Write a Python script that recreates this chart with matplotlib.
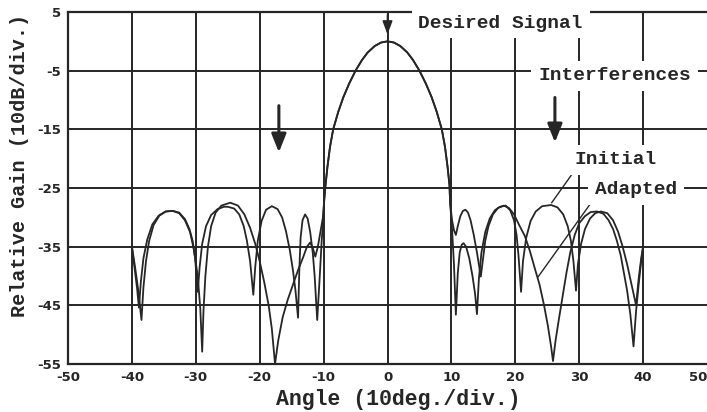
import numpy as np
import matplotlib
matplotlib.use('Agg')
import matplotlib.pyplot as plt

# values (angle in deg, gain in dB)
main_ang = [-9.9, -9.7, -9.4, -9.0, -8.5, -7.7, -6.9, -6.0, -5.0, -4.0, -3.1, -2.0, -1.0, 0.0,
            1.0, 2.0, 3.1, 4.0, 5.0, 6.0, 6.9, 7.7, 8.5, 9.0, 9.4, 9.7]
main_db = [-27.0, -24.5, -21.4, -18.0, -15.0, -12.0, -9.5, -7.2, -5.0, -3.2, -1.9, -0.8, -0.2, 0.0,
           -0.2, -0.8, -1.9, -3.2, -5.0, -7.2, -9.5, -12.0, -15.0, -18.0, -21.4, -24.5]

init_left_ang = [-40.0, -39.6, -39.2, -38.9,
                 -38.6, -38.2, -37.6, -36.8, -35.8, -34.7, -33.6, -32.6, -31.7, -31.0, -30.5, -30.1, -29.7,
                 -29.4, -29.0, -28.4, -27.6, -26.6, -25.6, -25.0, -24.0, -23.2, -22.5, -22.0, -21.5, -21.0,
                 -20.7, -20.3, -19.7, -19.0, -18.1, -17.2, -16.5, -15.9, -15.3, -14.8, -14.4, -14.0,
                 -13.8, -13.6, -13.3, -12.9, -12.5, -12.1, -11.7, -11.4, -11.0,
                 -10.6, -10.3, -10.1]
init_left_db = [-35.0, -38.5, -42.0, -45.4,
                -41.0, -37.0, -33.8, -31.2, -29.7, -29.0, -28.9, -29.2, -30.3, -32.0, -34.0, -37.0, -42.7,
                -38.5, -34.5, -31.5, -29.6, -28.6, -28.2, -28.2, -28.5, -29.5, -31.5, -34.0, -37.5, -43.2,
                -38.5, -34.0, -30.6, -28.7, -28.1, -28.6, -30.0, -32.3, -35.5, -39.0, -42.5, -47.1,
                -39.0, -33.5, -30.5, -29.5, -30.2, -32.5, -36.0, -40.0, -47.5,
                -40.0, -34.0, -31.0]
init_right_ang = [9.8, 10.1, 10.4, 10.7,
                  11.0, 11.3, 11.6, 11.9, 12.3, 12.8, 13.3, 13.7, 14.0,
                  14.3, 14.7, 15.3, 16.0, 16.8, 17.6, 18.5, 19.2, 19.8, 20.2, 20.5, 20.7, 20.9,
                  21.2, 21.7, 22.4, 23.2, 24.2, 25.6, 26.6, 27.5, 28.2, 28.7, 29.1, 29.5,
                  29.8, 30.3, 30.9, 31.7, 32.5, 33.4, 34.4, 35.3, 36.1, 36.8, 37.5, 38.2, 38.9,
                  39.3, 39.7, 40.0]
init_right_db = [-27.5, -32.0, -38.0, -46.6,
                 -39.5, -36.0, -34.7, -34.4, -35.0, -37.0, -40.0, -43.0, -46.5,
                 -40.5, -36.0, -32.5, -30.2, -28.8, -28.2, -28.0, -28.8, -30.5, -33.0, -36.5, -39.5, -42.7,
                 -37.5, -33.5, -30.6, -29.0, -28.1, -27.9, -28.3, -29.5, -31.5, -34.0, -37.5, -42.5,
                 -38.0, -34.5, -32.0, -30.2, -29.3, -29.0, -29.3, -30.5, -32.5, -35.0, -38.0, -41.5, -45.0,
                 -40.5, -37.0, -35.0]

adapt_left_ang = [-40.0, -39.5, -39.0, -38.5,
                  -38.2, -37.8, -37.3, -36.6, -35.7, -34.7, -33.6, -32.6, -31.7, -30.9, -30.3, -29.7, -29.3, -29.0,
                  -28.8, -28.5, -28.1, -27.6, -26.9, -26.0, -24.6, -23.4, -22.4, -21.5, -20.7, -20.0, -19.3,
                  -18.6, -18.1, -17.6,
                  -17.1, -16.4, -15.6, -14.8, -14.0, -13.2, -12.6, -12.1, -11.7, -11.3, -10.9, -10.5, -10.1]
adapt_left_db = [-35.0, -38.5, -42.5, -47.5,
                 -42.0, -37.5, -34.0, -31.3, -29.7, -29.0, -28.9, -29.3, -30.5, -32.5, -35.5, -40.0, -45.5, -52.9,
                 -46.0, -40.0, -35.0, -31.5, -29.2, -28.0, -27.5, -28.0, -29.5, -31.8, -34.5, -37.5, -41.0,
                 -45.0, -49.0, -55.0,
                 -51.0, -47.0, -44.0, -41.5, -39.0, -36.8, -35.0, -34.3, -35.2, -36.7, -35.0, -32.5, -30.0]
adapt_right_ang = [9.8, 10.1, 10.4, 10.7, 11.0, 11.4, 11.8, 12.2, 12.6, 13.0, 13.5, 14.0, 14.6,
                   14.9, 15.3, 15.8, 16.5, 17.3, 18.2, 19.0, 19.8, 20.6, 21.5, 22.3, 23.0, 23.8,
                   24.5, 25.1, 25.6, 25.9,
                   26.3, 26.8, 27.4, 28.0, 28.6, 29.3, 30.0, 30.9, 31.8, 32.8, 33.8, 34.6, 35.3,
                   35.9, 36.5, 37.0, 37.5, 38.0, 38.5,
                   38.9, 39.3, 39.7, 40.0]
adapt_right_db = [-27.5, -30.5, -32.2, -33.0, -31.5, -29.8, -28.9, -28.7, -29.2, -30.5, -33.0, -36.0, -40.1,
                  -37.5, -34.0, -31.5, -29.5, -28.4, -28.0, -28.4, -29.5, -31.3, -33.2, -35.8, -38.5, -41.5,
                  -45.0, -48.5, -52.0, -54.5,
                  -51.0, -47.5, -43.5, -39.5, -36.0, -33.0, -31.0, -29.8, -29.1, -29.0, -29.4, -30.5, -32.0,
                  -34.0, -36.5, -39.5, -42.5, -46.5, -52.0,
                  -46.0, -41.5, -37.5, -35.0]

x_ticks = [-50, -40, -30, -20, -10, 0, 10, 20, 30, 40, 50]
x_tick_labels = ['-50', '-40', '-30', '-20', '-10', '0', '10', '20', '30', '40', '50']
y_ticks = [5, -5, -15, -25, -35, -45, -55]
y_tick_labels = ['5', '-5', '-15', '-25', '-35', '-45', '-55']

desired_ang = 0
interf_ang = [-17.0, 26.2]

initial_ang = init_left_ang + main_ang + init_right_ang
initial_db = init_left_db + main_db + init_right_db
adapted_ang = adapt_left_ang + main_ang + adapt_right_ang
adapted_db = adapt_left_db + main_db + adapt_right_db

ink = '#262626'
mono = ['Liberation Mono', 'DejaVu Sans Mono']
narrow = ['Liberation Sans Narrow', 'DejaVu Sans']

fig = plt.figure(figsize=(7.07, 4.12), dpi=100)
ax = fig.add_axes([68/707, 48/412, 639/707, 352/412])
ax.set_xlim(-50, 50)
ax.set_ylim(-55, 5)

for v in x_ticks[1:-1]:
    ax.axvline(v, color=ink, lw=1.4, zorder=1)
for v in y_ticks[1:-1]:
    ax.axhline(v, color=ink, lw=1.4, zorder=1)

ax.spines['right'].set_visible(False)
for s in ['left', 'top', 'bottom']:
    ax.spines[s].set_color(ink)
    ax.spines[s].set_linewidth(1.6)

ax.set_xticks(x_ticks, labels=x_tick_labels)
ax.set_yticks(y_ticks, labels=y_tick_labels)
ax.tick_params(length=0, labelsize=9.5, colors=ink, pad=5)
for lab in ax.get_xticklabels() + ax.get_yticklabels():
    lab.set_family(narrow)
    lab.set_weight('bold')
ax.get_xticklabels()[-1].set_ha('right')

ax.plot(initial_ang, initial_db, color=ink, lw=1.3, zorder=3)
ax.plot(adapted_ang, adapted_db, color=ink, lw=1.3, zorder=3)

# arrows
ax.annotate('', xy=(desired_ang, 0.7), xytext=(desired_ang, 5),
            arrowprops=dict(arrowstyle='-|>,head_length=0.8,head_width=0.3',
                            color=ink, lw=1.2, mutation_scale=10), zorder=4)
ax.annotate('', xy=(interf_ang[0], -19.4), xytext=(interf_ang[0], -10.5),
            arrowprops=dict(arrowstyle='-|>,head_length=0.55,head_width=0.22',
                            color=ink, lw=2.2, mutation_scale=20), zorder=4)
ax.annotate('', xy=(interf_ang[1], -17.7), xytext=(interf_ang[1], -9.1),
            arrowprops=dict(arrowstyle='-|>,head_length=0.55,head_width=0.22',
                            color=ink, lw=2.2, mutation_scale=20), zorder=4)

# pointer lines
ax.plot([29.1, 25.7], [-22.3, -27.5], color=ink, lw=1.0, zorder=4)
ax.plot([32.2, 23.6], [-27.0, -40.1], color=ink, lw=1.0, zorder=4)

box = dict(boxstyle='square,pad=0.35', fc='white', ec='none')
tkw = dict(family=mono, weight='bold', fontsize=14, color=ink, va='center', ha='left', zorder=5)
ax.text(4.85, 3.1, 'Desired Signal', bbox=box, **tkw)
ax.text(23.6, -5.9, 'Interferences', bbox=box, **tkw)
ax.text(29.3, -20.2, 'Initial', bbox=box, **tkw)
ax.text(32.4, -25.3, 'Adapted', bbox=box, **tkw)

fig.text(20/707, 1 - 165/412, 'Relative Gain (10dB/div.)', rotation=90,
         ha='center', va='center', family=mono, weight='bold', fontsize=14.5, color=ink)
fig.text(398/707, 1 - 400/412, 'Angle (10deg./div.)', ha='center', va='center',
         family=mono, weight='bold', fontsize=15.5, color=ink)

fig.savefig('out.png', dpi=100, facecolor='white')
